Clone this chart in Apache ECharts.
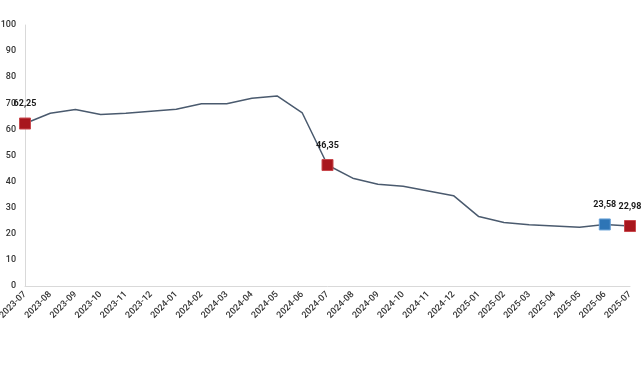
<!DOCTYPE html>
<html><head><meta charset="utf-8">
<script src="https://cdn.jsdelivr.net/npm/echarts@6/dist/echarts.min.js"></script>
<style>html,body{margin:0;padding:0;background:#fff}#c{width:641px;height:380px}</style>
</head><body><div id="c"></div>
<script>
const categories = ['2023-07','2023-08','2023-09','2023-10','2023-11','2023-12','2024-01','2024-02','2024-03','2024-04','2024-05','2024-06','2024-07','2024-08','2024-09','2024-10','2024-11','2024-12','2025-01','2025-02','2025-03','2025-04','2025-05','2025-06','2025-07'];
const values = [62.25,66.2,67.6,65.7,66.2,67.0,67.7,69.8,69.8,71.9,72.8,66.3,46.35,41.3,39.0,38.2,36.4,34.6,26.6,24.3,23.5,23.0,22.5,23.58,22.98];
const redPoints = ['2023-07','2024-07','2025-07'];
const bluePoints = ['2025-06'];
const yTicks = [0,10,20,30,40,50,60,70,80,90,100];

const fmt = v => v.toFixed(2).replace('.', ',');
const data = values.map((v, i) => {
  const c = categories[i];
  const red = redPoints.includes(c), blue = bluePoints.includes(c);
  if (!red && !blue) return { value: v, symbol: 'none' };
  return {
    value: v, symbol: 'rect', symbolSize: 11,
    itemStyle: { color: red ? '#a8161d' : '#2e75b6', borderColor: red ? '#c9484d' : '#6aa3d8', borderWidth: 1 },
    label: { show: true, position: 'top', distance: 9, formatter: p => fmt(p.value),
      fontFamily: 'Roboto', fontWeight: 'bold', fontSize: 9, color: '#1a1a1a' }
  };
});

const chart = echarts.init(document.getElementById('c'), null, { renderer: 'canvas' });
chart.setOption({
  animation: false,
  grid: { left: 25, right: 11, top: 25, bottom: 94, containLabel: false, outerBoundsMode: 'none' },
  xAxis: {
    type: 'category', data: categories, boundaryGap: false,
    axisLine: { lineStyle: { color: '#d9d9d9', width: 1 } },
    axisTick: { show: false },
    axisLabel: { rotate: 45, interval: 0, margin: 7, fontFamily: 'Roboto', fontWeight: 500, fontSize: 9, color: '#333' }
  },
  yAxis: {
    type: 'value', min: yTicks[0], max: yTicks[yTicks.length - 1], interval: 10,
    axisLine: { show: true, lineStyle: { color: '#d9d9d9', width: 1 } },
    axisTick: { show: false },
    splitLine: { show: false },
    axisLabel: { margin: 9, fontFamily: 'Roboto', fontWeight: 500, fontSize: 9, color: '#333' }
  },
  series: [{
    type: 'line', data: data, smooth: false,
    lineStyle: { color: '#4a5a6e', width: 1.5 },
    itemStyle: { color: '#4a5a6e' },
    z: 3
  }]
});
</script></body></html>
